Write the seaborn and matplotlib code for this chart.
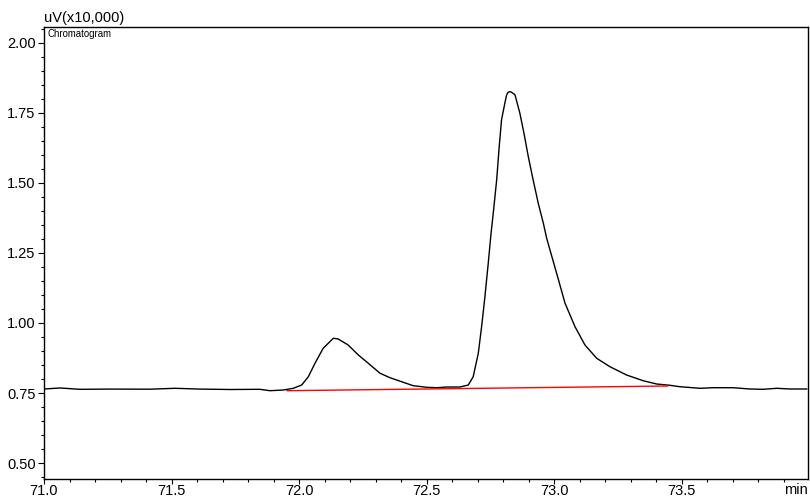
import numpy as np
import pandas as pd
import matplotlib
matplotlib.use("Agg")
import matplotlib.pyplot as plt
from matplotlib.ticker import MultipleLocator, FixedLocator
import seaborn as sns

# Detector signal, uV (x10,000), against retention time in minutes
time_min = [
    71.000, 71.063, 71.141, 71.259, 71.415, 71.513, 71.611, 71.729, 71.846,
    71.886, 71.938, 71.977, 72.010, 72.036, 72.062, 72.094, 72.134, 72.153,
    72.192, 72.232, 72.271, 72.317, 72.356, 72.408, 72.447, 72.500, 72.539,
    72.578, 72.630, 72.663, 72.682, 72.702, 72.715, 72.728, 72.741, 72.752,
    72.761, 72.774, 72.784, 72.793, 72.806, 72.813, 72.819, 72.826, 72.832,
    72.840, 72.846, 72.865, 72.881, 72.898, 72.917, 72.937, 72.957, 72.970,
    72.983, 73.009, 73.042, 73.081, 73.120, 73.166, 73.218, 73.283, 73.348,
    73.401, 73.453, 73.492, 73.571, 73.621, 73.700, 73.766, 73.817, 73.872,
    73.923, 73.990,
]
signal = [
    0.7643, 0.7679, 0.7632, 0.7640, 0.7636, 0.7668, 0.7640, 0.7625, 0.7632,
    0.7582, 0.7607, 0.7668, 0.7786, 0.8082, 0.8561, 0.9096, 0.9454, 0.9429,
    0.9214, 0.8857, 0.8561, 0.8204, 0.8046, 0.7882, 0.7761, 0.7704, 0.7689,
    0.7714, 0.7714, 0.7786, 0.8082, 0.8918, 0.9868, 1.0939, 1.2132, 1.3200,
    1.3950, 1.5107, 1.6296, 1.7250, 1.7846, 1.8143, 1.8240, 1.8261, 1.8240,
    1.8190, 1.8143, 1.7489, 1.6775, 1.5939, 1.5107, 1.4275, 1.3561, 1.3025,
    1.2607, 1.1775, 1.0704, 0.9868, 0.9214, 0.8739, 0.8439, 0.8143, 0.7939,
    0.7821, 0.7775, 0.7725, 0.7668, 0.7689, 0.7689, 0.7643, 0.7632, 0.7668,
    0.7643, 0.7643,
]

# Integration baseline drawn under both peaks
baseline_time = [71.952, 73.445]
baseline_signal = [0.7582, 0.7750]

x_major = [71.0, 71.5, 72.0, 72.5, 73.0, 73.5]
x_labels = ["71.0", "71.5", "72.0", "72.5", "73.0", "73.5"]
y_major = [0.50, 0.75, 1.00, 1.25, 1.50, 1.75, 2.00]
y_labels = ["0.50", "0.75", "1.00", "1.25", "1.50", "1.75", "2.00"]

sns.set_theme(style="white")
plt.rcParams["font.family"] = ["Liberation Sans", "DejaVu Sans"]

trace = pd.DataFrame({"time": time_min, "signal": signal})
base = pd.DataFrame({"time": baseline_time, "signal": baseline_signal})

fig = plt.figure(figsize=(8.10, 4.98), dpi=100)
ax = fig.add_axes([0.0543, 0.0382, 0.9432, 0.9076])

sns.lineplot(data=trace, x="time", y="signal", ax=ax, color="black",
             linewidth=1.0, estimator=None, sort=False)
sns.lineplot(data=base, x="time", y="signal", ax=ax, color="#ff0000",
             linewidth=1.0, estimator=None, sort=False)

ax.set_xlim(71.0, 73.994)
ax.set_ylim(0.443, 2.057)

ax.xaxis.set_major_locator(FixedLocator(x_major))
ax.set_xticklabels(x_labels)
ax.xaxis.set_minor_locator(MultipleLocator(0.1))
ax.yaxis.set_major_locator(FixedLocator(y_major))
ax.set_yticklabels(y_labels)
ax.yaxis.set_minor_locator(MultipleLocator(0.05))

ax.tick_params(axis="y", which="major", direction="out", length=4,
               width=0.8, color="black", labelsize=10.5, labelcolor="black",
               left=True, pad=2)
ax.tick_params(axis="x", which="major", direction="out", length=3.5,
               width=0.8, color="black", labelsize=10.5, labelcolor="black",
               bottom=True, pad=0.3)
ax.tick_params(axis="both", which="minor", direction="out", length=2,
               width=0.8, color="black", bottom=True, left=True)

for s in ax.spines.values():
    s.set_visible(True)
    s.set_color("black")
    s.set_linewidth(1.0)

ax.set_xlabel("")
ax.set_ylabel("")
ax.grid(False)

ax.text(0.0, 1.004, "uV(x10,000)", transform=ax.transAxes, ha="left",
        va="bottom", fontsize=10.5, color="black")
ax.text(0.004, 0.996, "Chromatogram", transform=ax.transAxes, ha="left",
        va="top", fontsize=6.9, color="black")
ax.text(1.0, -0.0085, "min", transform=ax.transAxes, ha="right",
        va="top", fontsize=10.5, color="black")

fig.savefig("out.png", dpi=100, facecolor="white")
